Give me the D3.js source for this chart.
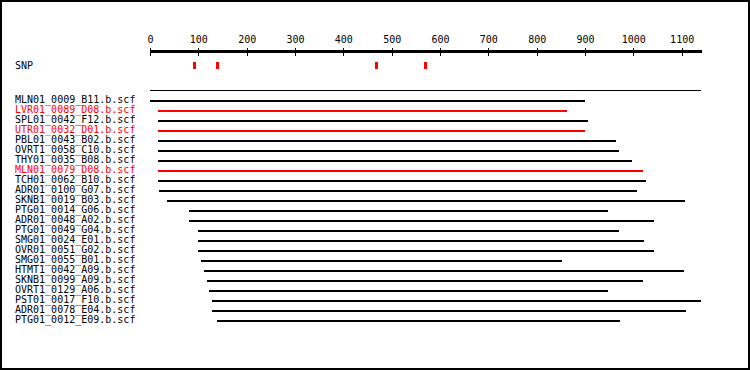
<!DOCTYPE html>
<html>
<head>
<meta charset="utf-8">
<script src="https://cdn.jsdelivr.net/npm/d3@7"></script>
<style>
  body { margin: 0; background: #fff; }
  text { font-family: "DejaVu Sans Mono", monospace; font-size: 10px; }
</style>
</head>
<body>
<div id="chart"></div>
<script>
// reads, start/end on the reference (bp), red = highlighted
const reads = ["MLN01_0009_B11.b.scf", "LVR01_0089_D08.b.scf", "SPL01_0042_F12.b.scf", "UTR01_0032_D01.b.scf",
  "PBL01_0043_B02.b.scf", "OVRT1_0058_C10.b.scf", "THY01_0035_B08.b.scf", "MLN01_0079_D08.b.scf",
  "TCH01_0062_B10.b.scf", "ADR01_0100_G07.b.scf", "SKNB1_0019_B03.b.scf", "PTG01_0014_G06.b.scf",
  "ADR01_0048_A02.b.scf", "PTG01_0049_G04.b.scf", "SMG01_0024_E01.b.scf", "OVR01_0051_G02.b.scf",
  "SMG01_0055_B01.b.scf", "HTMT1_0042_A09.b.scf", "SKNB1_0099_A09.b.scf", "OVRT1_0129_A06.b.scf",
  "PST01_0017_F10.b.scf", "ADR01_0078_E04.b.scf", "PTG01_0012_E09.b.scf"]
const readStart = [0, 16, 16, 16, 16, 16, 16, 16, 16, 19, 35, 81, 81, 99, 99, 99, 106, 112, 118, 122, 128, 128, 139]
const readEnd = [901, 862, 906, 901, 964, 970, 997, 1021, 1026, 1007, 1106, 947, 1042, 970, 1023, 1042, 852, 1104, 1019, 947, 1139, 1108, 972]
const highlighted = ["LVR01_0089_D08.b.scf", "UTR01_0032_D01.b.scf", "MLN01_0079_D08.b.scf"]

const snps = [92, 138, 467, 569]
const refLength = 1140
const tickValues = [0, 100, 200, 300, 400, 500, 600, 700, 800, 900, 1000, 1100]

const width = 750
const height = 370
const red = "#ff0000"

const svg = d3.select("#chart").append("svg").attr("width", width).attr("height", height)
  .attr("shape-rendering", "crispEdges")

// frame
svg.append("rect").attr("x", 1).attr("y", 1).attr("width", width - 2).attr("height", height - 2)
  .attr("fill", "#fff").attr("stroke", "#000").attr("stroke-width", 2)

const x = d3.scaleLinear().domain([0, refLength]).range([150, 701])
const y = d3.scaleBand().domain(reads).range([100, 100 + reads.length * 10])

// ruler
const axisGroup = svg.append("g").attr("transform", "translate(0,50.5)")
axisGroup.call(d3.axisTop(x).tickValues(tickValues).tickFormat(d3.format("d"))
  .tickSizeInner(-5).tickSizeOuter(0).tickPadding(7.5))
axisGroup.select(".domain").attr("stroke-width", 3)
axisGroup.selectAll(".tick line").attr("y1", -3).attr("y2", 5)
axisGroup.selectAll(".tick text").attr("font-family", "DejaVu Sans Mono").attr("font-size", 10).attr("fill", "#000")

// SNP track
svg.append("text").attr("x", 15).attr("y", 69).text("SNP")
svg.append("g").selectAll("rect").data(snps).enter().append("rect")
  .attr("x", d => Math.round(x(d)) - 1)
  .attr("y", 62)
  .attr("width", 3)
  .attr("height", 7)
  .attr("fill", red)

// reference line
svg.append("line").attr("x1", x(0)).attr("x2", x(refLength))
  .attr("y1", 90.5).attr("y2", 90.5).attr("stroke", "#000")

// reads
const rows = svg.append("g").selectAll("g").data(reads).enter().append("g")
rows.append("text")
  .attr("x", 15)
  .attr("y", d => y(d) + 3)
  .attr("fill", d => highlighted.includes(d) ? red : "#000")
  .text(d => d)
rows.append("rect")
  .attr("x", (d, i) => x(readStart[i]))
  .attr("y", d => y(d))
  .attr("width", (d, i) => x(readEnd[i]) - x(readStart[i]))
  .attr("height", 2)
  .attr("fill", d => highlighted.includes(d) ? red : "#000")
</script>
</body>
</html>
